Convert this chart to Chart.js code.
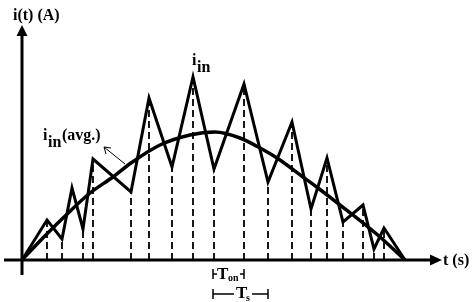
<!DOCTYPE html>
<html>
<head>
<meta charset="utf-8">
<script src="https://cdn.jsdelivr.net/npm/chart.js@4.4.0/dist/chart.umd.min.js"></script>
<style>
  body { margin: 0; background: #fff; }
  #wrap { width: 474px; height: 302px; }
</style>
</head>
<body>
<div id="wrap"><canvas id="myChart" width="474" height="302"></canvas></div>
<script>
// input current i_in: corner points of the ripple waveform (t, i)
let tWave = [0, 25, 40, 50, 61, 71, 109, 127, 150, 171, 192, 222, 246, 270, 289, 305, 321, 341, 352, 362, 383];
let iWave = [0, 40, 21, 72, 31, 101, 68, 162, 93, 183, 91, 176, 78, 138, 51, 102, 38, 55, 11, 32, 0];

// average current
let tAvg = [0, 18, 41, 68, 91, 109, 138, 168, 193, 218, 238, 255, 281, 296, 318, 331, 358, 383];
let iAvg = [0, 19, 42, 67, 83, 97, 115, 125, 128, 122, 112, 102, 83, 72, 55, 45, 23, 0];

// waveform corners that get a dashed drop line to the t axis
let dropIdx = [1, 2, 4, 5, 6, 7, 8, 9, 10, 11, 12, 13, 14, 15, 16, 17, 18, 19];

let ctx = document.getElementById("myChart").getContext("2d");
let FONT = '"Liberation Serif", "DejaVu Serif", serif';

function pts(xs, ys) {
  return xs.map(function (x, k) { return { x: x, y: ys[k] }; });
}

let dropSets = dropIdx.map(function (k) {
  return {
    data: [{ x: tWave[k], y: 0 }, { x: tWave[k], y: iWave[k] }],
    borderColor: "#000",
    borderWidth: 1.8,
    borderDash: [7, 4],
    pointRadius: 0,
    showLine: true,
  };
});

// axes, arrows and labels drawn on top with the chart's own scales
let sketch = {
  id: "sketch",
  afterDatasetsDraw: function (chart) {
    let c = chart.ctx;
    let sx = chart.scales.x;
    let sy = chart.scales.y;
    let X = function (v) { return sx.getPixelForValue(v); };
    let Y = function (v) { return sy.getPixelForValue(v); };
    c.save();
    c.strokeStyle = "#000";
    c.fillStyle = "#000";

    // axes
    c.lineWidth = 3;
    c.beginPath();
    c.moveTo(X(-18), Y(0));
    c.lineTo(X(410), Y(0));
    c.moveTo(X(0), Y(-15));
    c.lineTo(X(0), Y(226));
    c.stroke();
    c.beginPath();
    c.moveTo(X(420), Y(0));
    c.lineTo(X(408), Y(0) - 5.5);
    c.lineTo(X(408), Y(0) + 5.5);
    c.closePath();
    c.fill();
    c.beginPath();
    c.moveTo(X(0), Y(235));
    c.lineTo(X(0) - 5.5, Y(224));
    c.lineTo(X(0) + 5.5, Y(224));
    c.closePath();
    c.fill();

    // labels
    c.textBaseline = "alphabetic";
    c.font = "bold 16px " + FONT;
    c.fillText("i(t) (A)", 13, 20);
    c.fillText("t (s)", 443, 265);
    c.fillText("i", 192, 65);
    c.fillText("in", 197, 72);
    c.fillText("i", 43, 140);
    c.fillText("in", 48, 147);
    c.fillText("(avg.)", 62, 140);

    // thin arrow to the average curve label
    c.lineWidth = 1;
    c.beginPath();
    c.moveTo(125, 164);
    c.lineTo(104, 147);
    c.moveTo(104, 147);
    c.lineTo(111, 148);
    c.moveTo(104, 147);
    c.lineTo(106, 154);
    c.stroke();

    // T_on and T_s markers
    let a = X(tWave[10]), b = X(tWave[11]), d = X(tWave[12]);
    c.lineWidth = 1.5;
    c.beginPath();
    c.moveTo(a - 1, 269); c.lineTo(a - 1, 279);
    c.moveTo(a - 1, 274); c.lineTo(a + 3, 274);
    c.moveTo(b, 269); c.lineTo(b, 279);
    c.moveTo(b - 4, 274); c.lineTo(b, 274);
    c.moveTo(a - 1, 289); c.lineTo(a - 1, 299);
    c.moveTo(a - 1, 294); c.lineTo(234, 294);
    c.moveTo(252, 294); c.lineTo(d, 294);
    c.moveTo(d, 289); c.lineTo(d, 299);
    c.stroke();
    c.font = "bold 17px " + FONT;
    c.fillText("T", 217, 279);
    c.fillText("T", 236, 298);
    c.font = "bold 10px " + FONT;
    c.fillText("on", 228, 281);
    c.fillText("s", 246, 301);
    c.restore();
  },
};

let salesChart = new Chart(ctx, {
  type: "scatter",
  data: {
    datasets: [
      {
        label: "i_in",
        data: pts(tWave, iWave),
        borderColor: "#000",
        borderWidth: 3,
        borderJoinStyle: "miter",
        pointRadius: 0,
        showLine: true,
      },
      {
        label: "i_in(avg.)",
        data: pts(tAvg, iAvg),
        borderColor: "#000",
        borderWidth: 3.5,
        cubicInterpolationMode: "monotone",
        pointRadius: 0,
        showLine: true,
      },
    ].concat(dropSets),
  },
  options: {
    responsive: false,
    animation: false,
    devicePixelRatio: 1,
    layout: { padding: 0 },
    plugins: { legend: { display: false }, tooltip: { enabled: false } },
    scales: {
      x: { type: "linear", min: -22, max: 452, display: false },
      y: { type: "linear", min: -42, max: 260, display: false },
    },
  },
  plugins: [sketch],
});
</script>
</body>
</html>
